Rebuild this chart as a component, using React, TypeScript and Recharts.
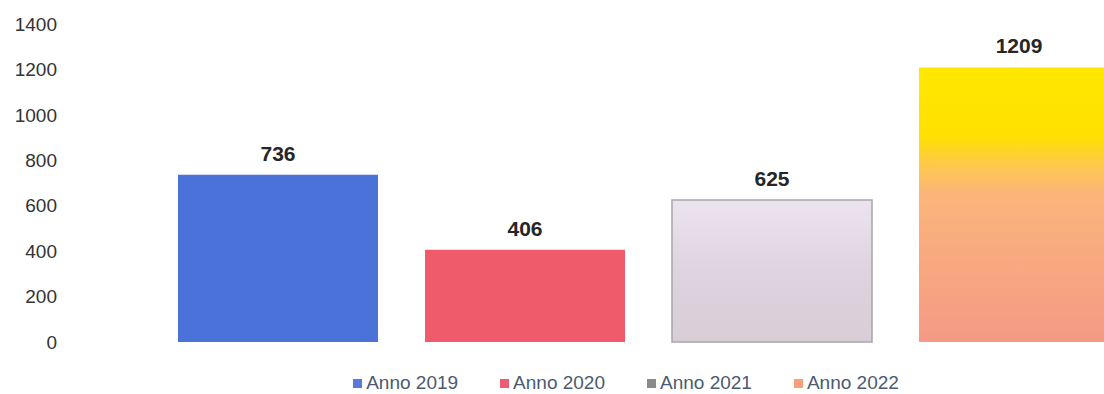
import { BarChart, Bar, XAxis, YAxis, Legend, LabelList } from 'recharts'

const CATEGORIES = ['Totale']
const SERIES = ['Anno 2019', 'Anno 2020', 'Anno 2021', 'Anno 2022']
const VALUES = [736, 406, 625, 1209]
const Y_TICKS = [0, 200, 400, 600, 800, 1000, 1200, 1400]

const FILLS: Record<string, string> = {
  'Anno 2019': '#4a72d8',
  'Anno 2020': '#ef5b6b',
  'Anno 2021': 'url(#grad2021)',
  'Anno 2022': 'url(#grad2022)',
}

const LEGEND_COLORS: Record<string, string> = {
  'Anno 2019': '#5b78dc',
  'Anno 2020': '#ee5c73',
  'Anno 2021': '#8a8a8a',
  'Anno 2022': '#f7a07a',
}

const data = CATEGORIES.map((name) => {
  const row: Record<string, string | number> = { name }
  SERIES.forEach((s, i) => {
    row[s] = VALUES[i]
  })
  return row
})

const font = 'Liberation Sans, Arial, sans-serif'

function LegendContent() {
  return (
    <div style={{ display: 'flex', justifyContent: 'center', fontFamily: font, fontSize: 19 }}>
      {SERIES.map((s, i) => (
        <div
          key={s}
          style={{ display: 'flex', alignItems: 'center', marginRight: i < SERIES.length - 1 ? 42 : 0 }}
        >
          <span
            style={{ width: 9, height: 9, background: LEGEND_COLORS[s], marginRight: 4, display: 'inline-block' }}
          />
          <span style={{ color: '#4a5a70' }}>{s}</span>
        </div>
      ))}
    </div>
  )
}

export default function App() {
  return (
    <div
      style={{
        position: 'absolute',
        left: 0,
        top: 0,
        width: 1104,
        height: 394,
        overflow: 'hidden',
        background: '#fff',
      }}
    >
      <BarChart
        width={1231}
        height={394}
        data={data}
        margin={{ top: 24, right: 0, left: 0, bottom: 30 }}
        barCategoryGap={0}
        barGap={47}
        barSize={200}
      >
        <defs>
          <linearGradient id="grad2021" x1="0" y1="0" x2="0" y2="1">
            <stop offset="0%" stopColor="#ebe4f0" />
            <stop offset="50%" stopColor="#ded3de" />
            <stop offset="100%" stopColor="#d9cdd7" />
          </linearGradient>
          <linearGradient id="grad2022" x1="0" y1="0" x2="0" y2="1">
            <stop offset="0%" stopColor="#ffe800" />
            <stop offset="25%" stopColor="#ffe000" />
            <stop offset="36%" stopColor="#fdc84e" />
            <stop offset="46%" stopColor="#fbb57a" />
            <stop offset="100%" stopColor="#f59a86" />
          </linearGradient>
        </defs>
        <XAxis dataKey="name" hide />
        <YAxis
          width={65}
          domain={[0, 1400]}
          ticks={Y_TICKS}
          axisLine={false}
          tickLine={false}
          tick={{ fontSize: 19, fill: '#333', fontFamily: font }}
        />
        <Legend
          verticalAlign="bottom"
          content={<LegendContent />}
          wrapperStyle={{ top: 372, left: 0, width: 1252 }}
        />
        {SERIES.map((s) => (
          <Bar
            key={s}
            dataKey={s}
            fill={FILLS[s]}
            stroke={s === 'Anno 2021' ? '#a9a5a9' : 'none'}
            strokeWidth={s === 'Anno 2021' ? 1.5 : 0}
            isAnimationActive={false}
          >
            <LabelList
              dataKey={s}
              position="top"
              offset={14}
              style={{ fontFamily: font, fontSize: 21, fontWeight: 700, fill: '#262626' }}
            />
          </Bar>
        ))}
      </BarChart>
    </div>
  )
}
